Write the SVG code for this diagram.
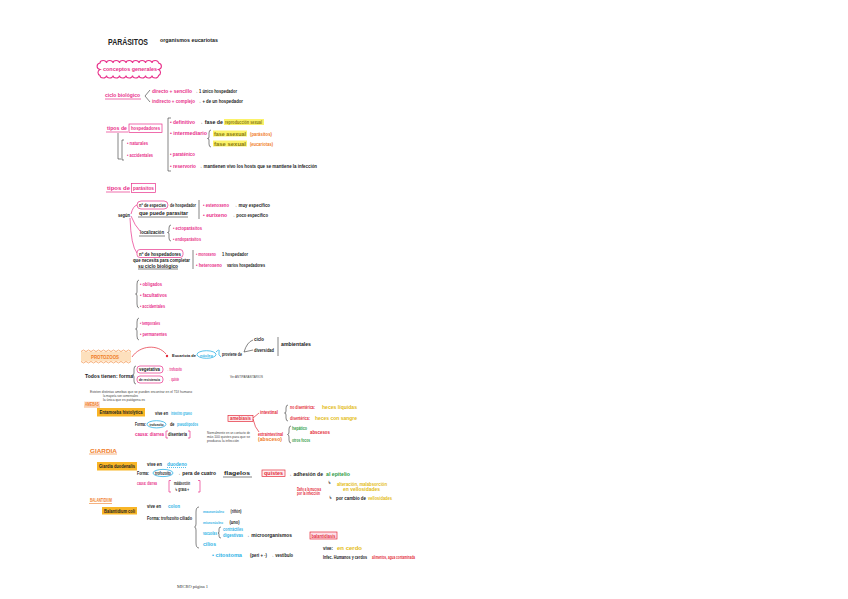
<svg xmlns="http://www.w3.org/2000/svg" width="848" height="599" viewBox="0 0 848 599">
<style>
text{font-family:"Liberation Sans","DejaVu Sans",Arial,sans-serif;font-size:4.6px;font-weight:bold}
.k{fill:#222}.p{fill:#e8308a}.y{fill:#e3bb14}.o{fill:#f07d28}.c{fill:#2fb3e6}.g{fill:#2e9b45}.r{fill:#e42b3a}
.pr{fill:#444;font-size:3.6px;font-weight:normal}
.t{font-weight:bold;font-size:9px;fill:#222}
.sm{font-size:4.3px}
.hl{fill:#fbf26a}.hb{fill:#f8b526}
.ln{fill:none;stroke:#333;stroke-width:0.6}
.lp{fill:none;stroke:#e8308a;stroke-width:0.7}
.lr{fill:none;stroke:#e42b3a;stroke-width:0.7}
.lc{fill:none;stroke:#2fb3e6;stroke-width:0.8}
.lo{fill:none;stroke:#f07d28;stroke-width:0.6}
</style>
<rect width="848" height="599" fill="#fff"/>

<g id="titulo">
<text x="108" y="45" class="t" textLength="40" lengthAdjust="spacingAndGlyphs">PARÁSITOS</text>
<text x="160" y="42" class="k" textLength="58" lengthAdjust="spacingAndGlyphs">organismos eucariotas</text>
</g>

<g id="conceptos">
<path d="M100,63 a3.25,2.5 0 0 1 6.5,0 a3.25,2.5 0 0 1 6.5,0 a3.25,2.5 0 0 1 6.5,0 a3.25,2.5 0 0 1 6.5,0 a3.25,2.5 0 0 1 6.5,0 a3.25,2.5 0 0 1 6.5,0 a3.25,2.5 0 0 1 6.5,0 a3.25,2.5 0 0 1 6.5,0 a3.25,2.5 0 0 1 6.5,0 a3.5,3.3 0 0 1 0,6.5 a3.5,3.3 0 0 1 0,6 a3.25,2.5 0 0 1 -6.5,0 a3.25,2.5 0 0 1 -6.5,0 a3.25,2.5 0 0 1 -6.5,0 a3.25,2.5 0 0 1 -6.5,0 a3.25,2.5 0 0 1 -6.5,0 a3.25,2.5 0 0 1 -6.5,0 a3.25,2.5 0 0 1 -6.5,0 a3.25,2.5 0 0 1 -6.5,0 a3.25,2.5 0 0 1 -6.5,0 a3.5,3.3 0 0 1 0,-6 a3.5,3.3 0 0 1 0,-6.5 z" fill="#fff" stroke="#e8308a" stroke-width="1.1"/>
<text x="103" y="70.5" class="p" textLength="54" lengthAdjust="spacingAndGlyphs">conceptos generales</text>
</g>

<g id="ciclo">
<text x="105" y="97" class="p" textLength="35" lengthAdjust="spacingAndGlyphs">ciclo biológico</text>
<text x="152" y="92.5" class="p" textLength="40" lengthAdjust="spacingAndGlyphs">directo + sencillo</text>
<text x="194" y="92.5" class="k" textLength="43" lengthAdjust="spacingAndGlyphs">→ 1 único hospedador</text>
<text x="152" y="102.5" class="p" textLength="43" lengthAdjust="spacingAndGlyphs">indirecto + complejo</text>
<text x="197" y="102.5" class="k" textLength="46" lengthAdjust="spacingAndGlyphs">→ + de un hospedador</text>
</g>

<g id="hospedadores">
<text x="107" y="130" class="p" textLength="20" lengthAdjust="spacingAndGlyphs">tipos de</text>
<rect x="129" y="124" width="33" height="8.5" fill="none" stroke="#e8308a" stroke-width="0.7"/>
<text x="131" y="130" class="p" textLength="29" lengthAdjust="spacingAndGlyphs">hospedadores</text>
<text x="127" y="145" class="p" textLength="21" lengthAdjust="spacingAndGlyphs">• naturales</text>
<text x="127" y="156.5" class="p" textLength="26" lengthAdjust="spacingAndGlyphs">• accidentales</text>
<text x="170" y="124" class="p" textLength="25" lengthAdjust="spacingAndGlyphs">• definitivo</text>
<text x="198" y="124" class="k" textLength="25" lengthAdjust="spacingAndGlyphs">→  fase de</text>
<rect x="224" y="119" width="40" height="6" class="hl"/>
<text x="225" y="124" fill="#8a7a10" textLength="37" lengthAdjust="spacingAndGlyphs">reproducción sexual</text>
<text x="170" y="135" class="p" textLength="37" lengthAdjust="spacingAndGlyphs">• intermediario</text>
<rect x="213" y="130.5" width="34" height="6" class="hl"/>
<text x="214" y="135.5" fill="#8a7a10" textLength="32" lengthAdjust="spacingAndGlyphs">fase asexual</text>
<text x="250" y="135.5" class="o" textLength="22" lengthAdjust="spacingAndGlyphs">(parásitos)</text>
<rect x="213" y="140.5" width="34" height="6" class="hl"/>
<text x="214" y="145.5" fill="#8a7a10" textLength="32" lengthAdjust="spacingAndGlyphs">fase sexual</text>
<text x="250" y="145.5" class="o" textLength="23" lengthAdjust="spacingAndGlyphs">(eucariotas)</text>
<text x="170" y="156" class="p" textLength="25" lengthAdjust="spacingAndGlyphs">• paraténico</text>
<text x="170" y="168" class="p" textLength="26" lengthAdjust="spacingAndGlyphs">• reservorio</text>
<text x="198" y="168" class="k" textLength="119" lengthAdjust="spacingAndGlyphs">→ mantienen vivo los hosts que se mantiene la infección</text>
</g>

<g id="parasitos">
<text x="107" y="190" class="p" textLength="23" lengthAdjust="spacingAndGlyphs">tipos de</text>
<rect x="131.5" y="183.5" width="24" height="9" fill="none" stroke="#e8308a" stroke-width="0.7"/>
<text x="133" y="190" class="p" textLength="21" lengthAdjust="spacingAndGlyphs">parásitos</text>
<text x="118" y="217" class="k" textLength="12" lengthAdjust="spacingAndGlyphs">según</text>
<rect x="137" y="201" width="31" height="8" rx="4" fill="none" stroke="#e8308a" stroke-width="0.7"/>
<text x="139" y="207" class="k" textLength="27" lengthAdjust="spacingAndGlyphs">nº de especies</text>
<text x="170" y="207" class="k" textLength="26" lengthAdjust="spacingAndGlyphs">de hospedador</text>
<text x="139" y="215" class="k" textLength="49" lengthAdjust="spacingAndGlyphs">que puede parasitar</text>
<text x="203" y="207" class="p" textLength="26" lengthAdjust="spacingAndGlyphs">• estenoxeno</text>
<text x="233" y="207" class="k" textLength="37" lengthAdjust="spacingAndGlyphs">→ muy específico</text>
<text x="203" y="217" class="p" textLength="24" lengthAdjust="spacingAndGlyphs">• eurixeno</text>
<text x="231" y="217" class="k" textLength="37" lengthAdjust="spacingAndGlyphs">→ poco específico</text>
<text x="140" y="234" class="k" textLength="24" lengthAdjust="spacingAndGlyphs">localización</text>
<text x="173" y="230" class="p" textLength="29" lengthAdjust="spacingAndGlyphs">• ectoparásitos</text>
<text x="173" y="241" class="p" textLength="28" lengthAdjust="spacingAndGlyphs">• endoparásitos</text>
<rect x="137" y="249.5" width="46" height="8" rx="3" fill="none" stroke="#e8308a" stroke-width="0.7"/>
<text x="139" y="255.5" class="k" textLength="42" lengthAdjust="spacingAndGlyphs">nº de hospedadores</text>
<text x="133" y="262" class="k" textLength="57" lengthAdjust="spacingAndGlyphs">que necesita para completar</text>
<text x="138" y="267.5" class="k" textLength="40" lengthAdjust="spacingAndGlyphs">su ciclo biológico</text>
<text x="196" y="256" class="p" textLength="20" lengthAdjust="spacingAndGlyphs">• monoxeno</text>
<text x="222" y="256" class="k" textLength="26" lengthAdjust="spacingAndGlyphs">1 hospedador</text>
<text x="196" y="267" class="p" textLength="26" lengthAdjust="spacingAndGlyphs">• heteroxeno</text>
<text x="227" y="267" class="k" textLength="38" lengthAdjust="spacingAndGlyphs">varios hospedadores</text>
<text x="140" y="286" class="p" textLength="22" lengthAdjust="spacingAndGlyphs">• obligados</text>
<text x="140" y="297" class="p" textLength="27" lengthAdjust="spacingAndGlyphs">• facultativos</text>
<text x="140" y="308" class="p" textLength="25" lengthAdjust="spacingAndGlyphs">• accidentales</text>
<text x="140" y="325" class="p" textLength="20" lengthAdjust="spacingAndGlyphs">• temporales</text>
<text x="140" y="335.5" class="p" textLength="27" lengthAdjust="spacingAndGlyphs">• permanentes</text>
</g>

<g id="protozoos">
<rect x="81" y="351.5" width="50" height="10" fill="#fde0bd"/>
<path d="M81,351.5 l2.5,-1.5 l2.5,1.5 l2.5,-1.5 l2.5,1.5 l2.5,-1.5 l2.5,1.5 l2.5,-1.5 l2.5,1.5 l2.5,-1.5 l2.5,1.5 l2.5,-1.5 l2.5,1.5 l2.5,-1.5 l2.5,1.5 l2.5,-1.5 l2.5,1.5 l2.5,-1.5 l2.5,1.5 l2.5,-1.5 l2.5,1.5 M81,361.5 l2.5,1.5 l2.5,-1.5 l2.5,1.5 l2.5,-1.5 l2.5,1.5 l2.5,-1.5 l2.5,1.5 l2.5,-1.5 l2.5,1.5 l2.5,-1.5 l2.5,1.5 l2.5,-1.5 l2.5,1.5 l2.5,-1.5 l2.5,1.5 l2.5,-1.5 l2.5,1.5 l2.5,-1.5 l2.5,1.5 l2.5,-1.5" class="lo"/>
<text x="91" y="359" class="o" textLength="28" lengthAdjust="spacingAndGlyphs">PROTOZOOS</text>
<text x="172" y="357" class="k sm" textLength="24" lengthAdjust="spacingAndGlyphs">Eucariota de</text>
<ellipse cx="206.5" cy="354.5" rx="9.5" ry="3.8" class="lc"/>
<text x="200" y="356.5" class="c sm" textLength="13" lengthAdjust="spacingAndGlyphs">núcleo</text>
<text x="222" y="356" class="k" textLength="20" lengthAdjust="spacingAndGlyphs">proviene de</text>
<text x="254" y="341" class="k" textLength="10" lengthAdjust="spacingAndGlyphs">ciclo</text>
<text x="254" y="352" class="k" textLength="20" lengthAdjust="spacingAndGlyphs">diversidad</text>
<text x="281" y="346" class="k" textLength="30" lengthAdjust="spacingAndGlyphs">ambientales</text>
<text x="85" y="377.5" class="k" textLength="48" lengthAdjust="spacingAndGlyphs">Todos tienen: forma</text>
<rect x="137" y="366" width="26" height="7" rx="3" fill="none" stroke="#e8308a" stroke-width="0.7"/>
<text x="139" y="371.3" class="k" textLength="21" lengthAdjust="spacingAndGlyphs">vegetativa</text>
<text x="166" y="371.3" class="p" textLength="16" lengthAdjust="spacingAndGlyphs">→ trofozoíto</text>
<rect x="137" y="376" width="26" height="7" rx="3" fill="none" stroke="#e8308a" stroke-width="0.7"/>
<text x="139" y="381.3" class="k sm" textLength="21" lengthAdjust="spacingAndGlyphs">de resistencia</text>
<text x="168" y="381.3" class="p" textLength="11" lengthAdjust="spacingAndGlyphs">→ quiste</text>
<text x="230" y="377.5" class="pr" textLength="33" lengthAdjust="spacingAndGlyphs">Ver ANTIPARASITARIOS</text>
</g>

<g id="amebas">
<text x="90" y="392.5" class="pr" textLength="102" lengthAdjust="spacingAndGlyphs">Existen distintas amebas que se pueden encontrar en el TDI humano</text>
<text x="103" y="397" class="pr" textLength="35" lengthAdjust="spacingAndGlyphs">la mayoría son comensales</text>
<text x="103" y="401.3" class="pr" textLength="42" lengthAdjust="spacingAndGlyphs">la única que es patógena es</text>
<rect x="84" y="401.5" width="16" height="4.8" fill="#fde0cf"/>
<text x="85" y="405.5" class="o" textLength="14" lengthAdjust="spacingAndGlyphs">AMEBAS</text>
<rect x="97" y="408" width="48" height="8.5" class="hb"/>
<text x="99.5" y="414" class="k" textLength="43" lengthAdjust="spacingAndGlyphs">Entamoeba histolytica</text>
<text x="155" y="415" class="k" textLength="13" lengthAdjust="spacingAndGlyphs">vive en</text>
<text x="171" y="415" class="c" textLength="21" lengthAdjust="spacingAndGlyphs">intestino grueso</text>
<text x="135" y="425.5" class="k" textLength="11" lengthAdjust="spacingAndGlyphs">Forma:</text>
<ellipse cx="156.5" cy="424.3" rx="9.5" ry="3.6" class="lc"/>
<text x="149.5" y="426" class="k sm" textLength="14" lengthAdjust="spacingAndGlyphs">trofozoíto</text>
<text x="170" y="425.5" class="k" textLength="4.5" lengthAdjust="spacingAndGlyphs">de</text>
<text x="177" y="425.5" class="c" textLength="21" lengthAdjust="spacingAndGlyphs">pseudópodos</text>
<text x="135" y="435.5" class="p" textLength="29" lengthAdjust="spacingAndGlyphs">causa: diarrea</text>
<text x="168" y="436" class="k" textLength="19" lengthAdjust="spacingAndGlyphs">disentería</text>
<text x="207" y="433.5" class="pr" textLength="43" lengthAdjust="spacingAndGlyphs">Normalmente en un contacto de</text>
<text x="207" y="437.5" class="pr" textLength="43" lengthAdjust="spacingAndGlyphs">más 100 quistes para que se</text>
<text x="207" y="441.5" class="pr" textLength="32" lengthAdjust="spacingAndGlyphs">produzca la infección</text>
<rect x="228" y="415.5" width="25" height="6" fill="#fdeef0" stroke="#e42b3a" stroke-width="0.7"/>
<text x="230" y="420.3" class="r" textLength="21" lengthAdjust="spacingAndGlyphs">amebiasis</text>
<text x="260" y="413.5" class="r" textLength="18" lengthAdjust="spacingAndGlyphs">intestinal</text>
<text x="258" y="435.5" class="r" textLength="25" lengthAdjust="spacingAndGlyphs">extraintestinal</text>
<text x="258" y="440.5" class="o" textLength="24" lengthAdjust="spacingAndGlyphs">(absceso)</text>
<text x="290" y="408.5" class="r" textLength="25" lengthAdjust="spacingAndGlyphs">no disentérica:</text>
<text x="322" y="408.5" class="y" textLength="35" lengthAdjust="spacingAndGlyphs">heces líquidas</text>
<text x="290" y="419.5" class="r" textLength="20" lengthAdjust="spacingAndGlyphs">disentérica:</text>
<text x="315" y="419.5" class="y" textLength="42" lengthAdjust="spacingAndGlyphs">heces con sangre</text>
<text x="292" y="429.5" class="g" textLength="15" lengthAdjust="spacingAndGlyphs">hepático</text>
<text x="310" y="433.5" class="r" textLength="20" lengthAdjust="spacingAndGlyphs">abscesos</text>
<text x="292" y="441.5" class="g" textLength="18" lengthAdjust="spacingAndGlyphs">otros focos</text>
</g>

<g id="giardia">
<text x="90" y="452.5" class="o" textLength="27" lengthAdjust="spacingAndGlyphs">GIARDIA</text>
<rect x="97" y="462" width="40" height="8.5" class="hb"/>
<text x="99" y="468" class="k" textLength="36" lengthAdjust="spacingAndGlyphs">Giardia duodenalis</text>
<text x="147" y="466" class="k" textLength="15" lengthAdjust="spacingAndGlyphs">vive en</text>
<text x="167" y="465.5" class="c" textLength="20" lengthAdjust="spacingAndGlyphs">duodeno</text>
<text x="137" y="475" class="k" textLength="12" lengthAdjust="spacingAndGlyphs">Forma:</text>
<ellipse cx="163" cy="473" rx="10" ry="3.6" class="lc"/>
<text x="155" y="475" class="k" textLength="16" lengthAdjust="spacingAndGlyphs">trofozoíto</text>
<text x="176" y="475" class="k" textLength="40" lengthAdjust="spacingAndGlyphs">→ pera de cuatro</text>
<text x="224" y="475" class="k" textLength="26" lengthAdjust="spacingAndGlyphs">flagelos</text>
<rect x="262" y="470" width="23" height="6.5" fill="#fdeef0" stroke="#e42b3a" stroke-width="0.7"/>
<text x="264" y="475" class="r" textLength="19" lengthAdjust="spacingAndGlyphs">quistes</text>
<text x="137" y="485" class="p" textLength="20" lengthAdjust="spacingAndGlyphs">causa: diarrea</text>
<text x="174" y="484.5" class="k" textLength="16" lengthAdjust="spacingAndGlyphs">malabsorción</text>
<text x="175" y="490.5" class="k" textLength="14" lengthAdjust="spacingAndGlyphs">↳ grasa +</text>
<text x="287" y="476" class="k" textLength="36" lengthAdjust="spacingAndGlyphs">→ adhesión de</text>
<text x="326" y="476" class="g" textLength="24" lengthAdjust="spacingAndGlyphs">al epitelio</text>
<text x="328" y="484" class="k" textLength="3" lengthAdjust="spacingAndGlyphs">↳</text>
<text x="337" y="485.5" class="y" textLength="50" lengthAdjust="spacingAndGlyphs">alteración, malabsorción</text>
<text x="343" y="490.5" class="y" textLength="37" lengthAdjust="spacingAndGlyphs">en vellosidades</text>
<text x="297" y="490.5" class="r" textLength="24" lengthAdjust="spacingAndGlyphs">Daño a la mucosa</text>
<text x="297" y="495" class="r" textLength="23" lengthAdjust="spacingAndGlyphs">por la infección</text>
<text x="329" y="499" class="k" textLength="3" lengthAdjust="spacingAndGlyphs">↳</text>
<text x="336" y="499.5" class="k" textLength="30" lengthAdjust="spacingAndGlyphs">por cambio de</text>
<text x="368" y="499.5" class="y" textLength="24" lengthAdjust="spacingAndGlyphs">vellosidades</text>
</g>

<g id="balantidium">
<text x="90" y="502" class="o" textLength="22" lengthAdjust="spacingAndGlyphs">BALANTIDIUM</text>
<rect x="102" y="507" width="35" height="7.5" class="hb"/>
<text x="104" y="512.8" class="k" textLength="31" lengthAdjust="spacingAndGlyphs">Balantidium coli</text>
<text x="147" y="508" class="k" textLength="14" lengthAdjust="spacingAndGlyphs">vive en</text>
<text x="168" y="508" class="c" textLength="12" lengthAdjust="spacingAndGlyphs">colon</text>
<text x="147" y="519.5" class="k" textLength="45" lengthAdjust="spacingAndGlyphs">Forma: trofozoíto ciliado</text>
<text x="203" y="513" class="c sm" textLength="21" lengthAdjust="spacingAndGlyphs">macronúcleo</text>
<text x="230.5" y="513" class="k" textLength="11" lengthAdjust="spacingAndGlyphs">(riñón)</text>
<text x="203" y="524" class="c sm" textLength="20" lengthAdjust="spacingAndGlyphs">micronúcleo</text>
<text x="229.5" y="524" class="k" textLength="10" lengthAdjust="spacingAndGlyphs">(uno)</text>
<text x="203" y="535" class="c" textLength="14" lengthAdjust="spacingAndGlyphs">vacuolas</text>
<text x="223" y="531" class="c" textLength="20" lengthAdjust="spacingAndGlyphs">contráctiles</text>
<text x="223" y="537" class="c" textLength="20" lengthAdjust="spacingAndGlyphs">digestivas</text>
<text x="245" y="537" class="k" textLength="47" lengthAdjust="spacingAndGlyphs">→ microorganismos</text>
<text x="203" y="546" class="c" textLength="13" lengthAdjust="spacingAndGlyphs">cilios</text>
<text x="212" y="557" class="c" textLength="30" lengthAdjust="spacingAndGlyphs">• citostoma</text>
<text x="250" y="557" class="k" textLength="17" lengthAdjust="spacingAndGlyphs">(peri + ·)</text>
<text x="270" y="557" class="k" textLength="23" lengthAdjust="spacingAndGlyphs">→ vestíbulo</text>
<rect x="310" y="532" width="27" height="7" fill="#fde0e8" stroke="#e42b3a" stroke-width="0.7"/>
<text x="311.5" y="537.5" class="r" textLength="24" lengthAdjust="spacingAndGlyphs">balantidiasis</text>
<text x="323" y="549.5" class="k" textLength="10" lengthAdjust="spacingAndGlyphs">vive:</text>
<text x="337" y="549.5" class="y" textLength="25" lengthAdjust="spacingAndGlyphs">en cerdo</text>
<text x="323" y="559" class="k" textLength="44" lengthAdjust="spacingAndGlyphs">Infec. Humanos y cerdos</text>
<text x="372" y="559" class="r" textLength="43" lengthAdjust="spacingAndGlyphs">alimentos, agua contaminada</text>
</g>

<g id="pie">
<text x="177" y="588" style="font-family:'Liberation Serif',serif;font-size:4.5px;font-weight:normal" fill="#333" textLength="31" lengthAdjust="spacingAndGlyphs">MICRO página 1</text>
</g>

<g id="conectores">
<line x1="105" y1="99" x2="141" y2="99" class="lp"/>
<path d="M150,90 L145,96 L150,102" class="ln"/>
<line x1="106" y1="132" x2="128" y2="132" class="lp"/>
<path d="M118,133 L118,159 L121,159" class="ln"/>
<path d="M124,140 L122,140 L122,160 L124,160" class="ln"/>
<path d="M171,118 L168,118 L168,171 L171,171" class="ln"/>
<path d="M211,130 Q209,130 209,133 L209,137 Q209,138.5 207.5,138.5 Q209,138.5 209,140 L209,144 Q209,147 211,147" class="ln"/>
<line x1="106" y1="192" x2="130" y2="192" class="lp"/>
<path d="M131,214 Q133,206 137,205" class="lp"/>
<path d="M131,216 Q135,226 140,231" class="lp"/>
<path d="M130,218 Q131,246 137,253" class="lp"/>
<line x1="138" y1="217" x2="188" y2="217" class="ln"/>
<line x1="199" y1="200" x2="199" y2="219" class="ln"/>
<line x1="139" y1="236" x2="165" y2="236" class="ln"/>
<path d="M171,225 Q169,225 169,228 L169,231 Q169,232.5 167.5,232.5 Q169,232.5 169,234 L169,238 Q169,241 171,241" class="ln"/>
<line x1="138" y1="269" x2="178" y2="269" class="ln"/>
<line x1="193" y1="250" x2="193" y2="269" class="ln"/>
<path d="M139,280 Q137,280 137,284 L137,292 Q137,294 135.5,294 Q137,294 137,296 L137,304 Q137,308 139,308" class="ln"/>
<path d="M139,318 Q137,318 137,322 L137,327 Q137,329 135.5,329 Q137,329 137,331 L137,336 Q137,340 139,340" class="ln"/>
<path d="M132,357 C140,345 158,344 166,354" class="lr"/>
<circle cx="167" cy="356" r="1.2" fill="#e42b3a"/>
<path d="M216,352 q4,-4 3,0 q-1,3 2,5" class="lc"/>
<path d="M244,352 Q247,342 253,340 M244,352 L253,350" class="ln"/>
<line x1="278" y1="337" x2="278" y2="356" class="ln"/>
<line x1="84" y1="407" x2="100" y2="407" class="lo"/>
<path d="M136,366 Q134,366 134,369 L134,373 Q134,375 132.5,375 Q134,375 134,377 L134,381 Q134,384 136,384" class="ln"/>
<path d="M168,431 L166,431 L166,438 L168,438 M188,431 L190,431 L190,438 L188,438" class="lp"/>
<path d="M253,418 L259,413 M253,419 Q255,428 259,432" class="lr"/>
<path d="M288,405 Q286,405 286,408 L286,411 Q286,413 284.5,413 Q286,413 286,415 L286,418 Q286,421 288,421" class="ln"/>
<path d="M291,426 Q289,426 289,429 L289,432 Q289,434.5 287.5,434.5 Q289,434.5 289,437 L289,440 Q289,443 291,443" class="ln"/>
<line x1="89" y1="454" x2="117" y2="454" class="lo"/>
<line x1="223" y1="477" x2="252" y2="477" class="ln"/>
<line x1="167" y1="467.5" x2="187" y2="467.5" class="lc" stroke-dasharray="1,1"/>
<path d="M171,480.5 L169,480.5 L169,492 L171,492 M198,480.5 L200,480.5 L200,492 L198,492" class="lp"/>
<line x1="89" y1="503.5" x2="112" y2="503.5" class="lo"/>
<path d="M199,507 Q196,507 196,512 L196,524 Q196,527 194.5,527 Q196,527 196,530 L196,543 Q196,548 199,548" class="ln"/>
<path d="M221,527 Q219,527 219,529 L219,532 Q219,533 218,533 Q219,533 219,534 L219,536 Q219,538 221,538" class="ln"/>
</g>
</svg>
